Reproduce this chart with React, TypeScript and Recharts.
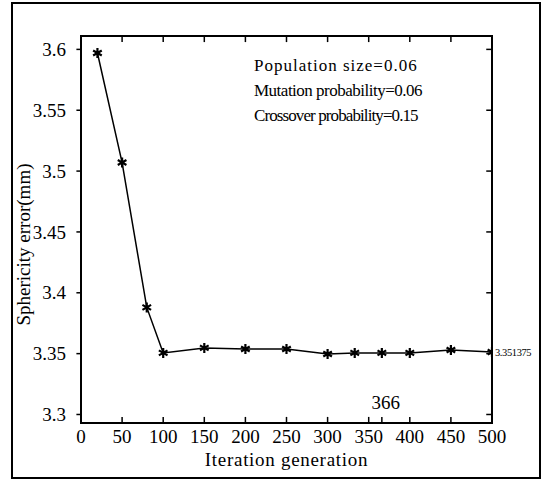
import React from "react";
import { LineChart, Line, XAxis, YAxis, ReferenceDot, ReferenceLine, ReferenceArea } from "recharts";

const generations = [20, 50, 80, 100, 150, 200, 250, 300, 333, 366, 400, 450, 500];
const sphericityError = [
    3.597, 3.507, 3.388, 3.3506, 3.3547, 3.3538, 3.3538, 3.3497, 3.3506, 3.3506, 3.3506, 3.353, 3.351375,
];
const xTicks = [0, 50, 100, 150, 200, 250, 300, 350, 400, 450, 500];
const xInnerTicks = [50, 100, 150, 200, 250, 300, 350, 366, 400, 450];
const topTicks = [50, 100, 150, 200, 250, 300, 350, 400, 450];
const yTicks = [3.3, 3.35, 3.4, 3.45, 3.5, 3.55, 3.6];
const settings = ["Population size=0.06", "Mutation probability=0.06", "Crossover probability=0.15"];
const settingSpacing = [1.0, -0.5, -0.9];
const markedGeneration = 366;
const finalError = 3.351375;

const data = generations.map((g, i) => ({ gen: g, err: sphericityError[i] }));

const serif = "Liberation Serif, Times New Roman, serif";
const xDomain: [number, number] = [0, 500];
const yDomain: [number, number] = [3.293, 3.611];
// tick mark lengths in data units (about 6px)
const tickLenX = 7;
const tickLenY = 0.005;

// asterisk marker like the scanned figure
const Star = (props: any) => {
    const { cx, cy, index } = props;
    if (cx == null || cy == null) return null;
    const r = 5;
    const d = [90, 30, 150]
        .map((a) => {
            const t = (a * Math.PI) / 180;
            return `M${cx - r * Math.cos(t)},${cy - r * Math.sin(t)}L${cx + r * Math.cos(t)},${cy + r * Math.sin(t)}`;
        })
        .join("");
    return <path key={`star-${index}`} d={d} stroke="#000" strokeWidth={2.2} fill="none" />;
};

const SerifTick = (props: any) => {
    const { x, y, payload, textAnchor, verticalAnchor } = props;
    const dy = verticalAnchor === "start" ? "0.71em" : "0.35em";
    return (
        <text x={x} y={y} dy={dy} textAnchor={textAnchor} fill="#000" fontSize={19} style={{ fontFamily: serif }}>
            {payload.value}
        </text>
    );
};

const TickPath = (props: any) => {
    const { x1, y1, x2, y2 } = props;
    if ([x1, y1, x2, y2].some((v) => v == null || isNaN(v))) return null;
    return <path d={`M${x1},${y1}L${x2},${y2}`} stroke="#000" strokeWidth={1.5} fill="none" />;
};

const FrameRect = (props: any) => {
    const { x, y, width, height } = props;
    return <path d={`M${x},${y}h${width}v${height}h${-width}Z`} stroke="#000" strokeWidth={2} fill="none" />;
};

export default function App() {
    const [y0, y1] = yDomain;
    return (
        <div style={{ position: "absolute", left: 0, top: 0, width: 550, height: 480, background: "#fff" }}>
            <div
                style={{
                    position: "absolute",
                    left: 11,
                    top: 2,
                    width: 526,
                    height: 473,
                    border: "2.5px solid #000",
                }}
            />
            <div style={{ position: "absolute", left: 0, top: 0 }}>
                <LineChart
                    width={550}
                    height={480}
                    data={data}
                    margin={{ top: 36, right: 58, bottom: 0, left: 0 }}
                    style={{ fontFamily: serif }}
                >
                    <XAxis
                        xAxisId="b"
                        dataKey="gen"
                        type="number"
                        domain={xDomain}
                        ticks={xTicks}
                        interval={0}
                        allowDataOverflow
                        height={57}
                        axisLine={false}
                        tickLine={false}
                        tickSize={5}
                        tickMargin={2}
                        tick={<SerifTick />}
                        label={{
                            value: "Iteration generation",
                            position: "center",
                            dy: 8,
                            fill: "#000",
                            fontSize: 19,
                            letterSpacing: 0.7,
                            style: { fontFamily: serif },
                        }}
                    />
                    <YAxis
                        yAxisId="l"
                        type="number"
                        domain={yDomain}
                        ticks={yTicks}
                        interval={0}
                        allowDataOverflow
                        width={81}
                        axisLine={false}
                        tickLine={false}
                        tickSize={5}
                        tickMargin={10}
                        tick={<SerifTick />}
                        label={{
                            value: "Sphericity error(mm)",
                            angle: -90,
                            position: "center",
                            dx: -17,
                            dy: 15,
                            fill: "#000",
                            fontSize: 19,
                            style: { fontFamily: serif },
                        }}
                    />
                    <ReferenceArea
                        xAxisId="b"
                        yAxisId="l"
                        x1={xDomain[0]}
                        x2={xDomain[1]}
                        y1={y0}
                        y2={y1}
                        ifOverflow="visible"
                        shape={<FrameRect />}
                    />
                    {xInnerTicks.map((t) => (
                        <ReferenceLine
                            key={`b${t}`}
                            xAxisId="b"
                            yAxisId="l"
                            segment={[{ x: t, y: y0 }, { x: t, y: y0 + tickLenY }]}
                            ifOverflow="visible"
                            shape={<TickPath />}
                        />
                    ))}
                    {topTicks.map((t) => (
                        <ReferenceLine
                            key={`t${t}`}
                            xAxisId="b"
                            yAxisId="l"
                            segment={[{ x: t, y: y1 }, { x: t, y: y1 - tickLenY }]}
                            ifOverflow="visible"
                            shape={<TickPath />}
                        />
                    ))}
                    {yTicks.map((t) => (
                        <ReferenceLine
                            key={`l${t}`}
                            xAxisId="b"
                            yAxisId="l"
                            segment={[{ x: xDomain[0] - tickLenX * 0.8, y: t }, { x: xDomain[0], y: t }]}
                            ifOverflow="visible"
                            shape={<TickPath />}
                        />
                    ))}
                    {yTicks.map((t) => (
                        <ReferenceLine
                            key={`r${t}`}
                            xAxisId="b"
                            yAxisId="l"
                            segment={[{ x: xDomain[1] - tickLenX, y: t }, { x: xDomain[1], y: t }]}
                            ifOverflow="visible"
                            shape={<TickPath />}
                        />
                    ))}
                    <Line
                        xAxisId="b"
                        yAxisId="l"
                        dataKey="err"
                        type="linear"
                        stroke="#000"
                        strokeWidth={1.5}
                        dot={Star}
                        activeDot={false}
                        isAnimationActive={false}
                    />
                    <ReferenceDot
                        xAxisId="b"
                        yAxisId="l"
                        x={markedGeneration}
                        y={3.31}
                        r={0}
                        stroke="none"
                        label={{
                            value: String(markedGeneration),
                            position: "center",
                            dx: 4,
                            fill: "#000",
                            fontSize: 19,
                            style: { fontFamily: serif },
                        }}
                    />
                    <ReferenceDot
                        xAxisId="b"
                        yAxisId="l"
                        x={500}
                        y={finalError}
                        r={0}
                        stroke="none"
                        label={{
                            value: String(finalError),
                            position: "right",
                            offset: 3,
                            fill: "#000",
                            fontSize: 10.5,
                            letterSpacing: -0.4,
                            style: { fontFamily: serif },
                        }}
                    />
                </LineChart>
            </div>
            <div style={{ position: "absolute", left: 254, top: 53, fontFamily: serif, fontSize: 17, lineHeight: "25px", color: "#000" }}>
                {settings.map((s, i) => (
                    <div key={s} style={{ letterSpacing: settingSpacing[i], whiteSpace: "nowrap" }}>
                        {s}
                    </div>
                ))}
            </div>
        </div>
    );
}
